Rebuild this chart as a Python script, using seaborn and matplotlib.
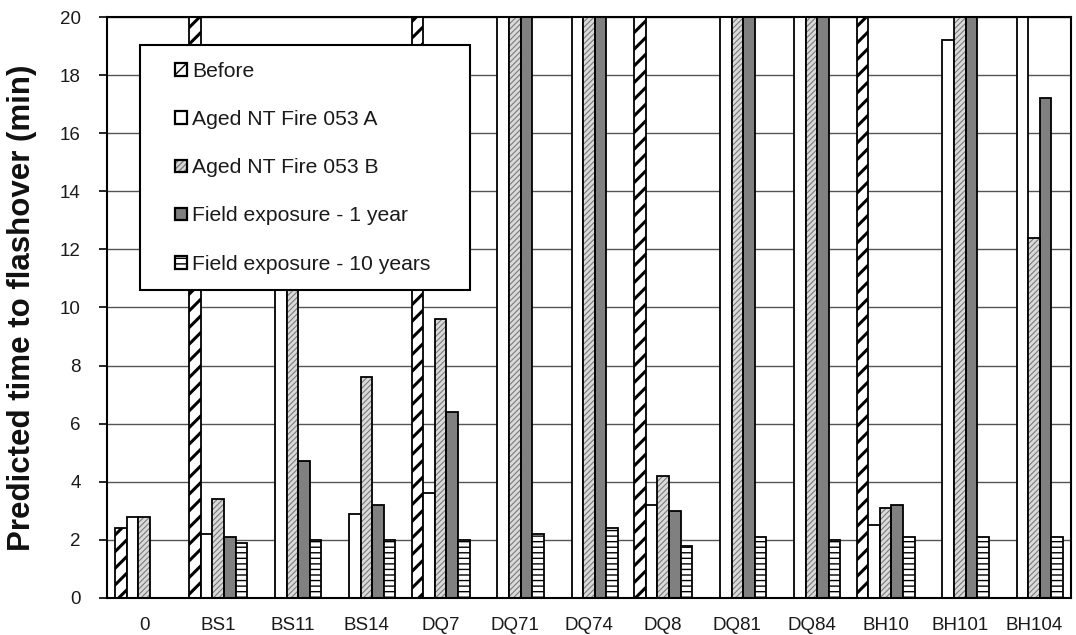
import numpy as np
import pandas as pd
import matplotlib
matplotlib.use("Agg")
import matplotlib.pyplot as plt
import matplotlib.patches as mpatches
from matplotlib.legend_handler import HandlerPatch
import seaborn as sns

nan = np.nan
OFF = 30  # bar runs off the top of the 0-20 scale

samples = ["0", "BS1", "BS11", "BS14", "DQ7", "DQ71", "DQ74", "DQ8",
           "DQ81", "DQ84", "BH10", "BH101", "BH104"]
series = ["Before", "Aged NT Fire 053 A", "Aged NT Fire 053 B",
          "Field exposure - 1 year", "Field exposure - 10 years"]

before   = [2.4, OFF, nan, nan, OFF, nan, nan, OFF, nan, nan, OFF, nan, nan]
aged_a   = [2.8, 2.2, 14.5, 2.9, 3.6, OFF, OFF, 3.2, OFF, OFF, 2.5, 19.2, OFF]
aged_b   = [2.8, 3.4, 12.0, 7.6, 9.6, OFF, OFF, 4.2, OFF, OFF, 3.1, OFF, 12.4]
field_1  = [nan, 2.1, 4.7, 3.2, 6.4, OFF, OFF, 3.0, OFF, OFF, 3.2, OFF, 17.2]
field_10 = [nan, 1.9, 2.0, 2.0, 2.0, 2.2, 2.4, 1.8, 2.1, 2.0, 2.1, 2.1, 2.1]

values = [before, aged_a, aged_b, field_1, field_10]

# fill, hatch, hatch colour, hatch line width
styles = {
    "Before": ("white", "//", "black", 2.2),
    "Aged NT Fire 053 A": ("white", "", "black", 1.0),
    "Aged NT Fire 053 B": ("#dadada", "//////", "#7a7a7a", 0.8),
    "Field exposure - 1 year": ("#808080", "", "black", 1.0),
    "Field exposure - 10 years": ("white", "---", "black", 1.0),
}

rows = []
for name, vals in zip(series, values):
    for s, v in zip(samples, vals):
        rows.append((s, name, v))
df = pd.DataFrame(rows, columns=["sample", "series", "value"]).dropna()

sns.set_style("white")
plt.rcParams["font.family"] = ["Liberation Sans", "DejaVu Sans"]
plt.rcParams["hatch.linewidth"] = 1.0

fig, ax = plt.subplots(figsize=(10.76, 6.35), dpi=100)
fig.subplots_adjust(left=0.0994, right=0.9954, bottom=0.0583, top=0.9732)

sns.barplot(data=df, x="sample", y="value", hue="series", order=samples,
            hue_order=series, palette=[styles[n][0] for n in series],
            width=0.78, errorbar=None, saturation=1, edgecolor="black",
            linewidth=1.3, legend=False, ax=ax)

EDGE = 1.3
for cont, name in zip(ax.containers, series):
    face, hatch, hcol, hlw = styles[name]
    for bar in cont:
        if hatch:
            bar.set_hatch(hatch)
            bar.set_edgecolor(hcol)
            if hasattr(bar, "set_hatch_linewidth"):
                bar.set_hatch_linewidth(hlw)
            if hcol != "black":
                bar.set_linewidth(0)
                ax.add_patch(mpatches.Rectangle(bar.get_xy(), bar.get_width(), bar.get_height(),
                                                fill=False, edgecolor="black", lw=EDGE,
                                                zorder=bar.get_zorder() + 0.1))


def square(legend, orig_handle, xdescent, ydescent, width, height, fontsize):
    s = 0.6 * fontsize
    return mpatches.Rectangle((-xdescent + width - s, -ydescent + (height - s) / 2), s, s)


handles = []
for name in series:
    face, hatch, hcol, hlw = styles[name]
    p = mpatches.Patch(facecolor=face, edgecolor=hcol, hatch=hatch, linewidth=0)
    if hasattr(p, "set_hatch_linewidth"):
        p.set_hatch_linewidth(hlw * 0.8)
    o = mpatches.Patch(fill=False, edgecolor="black", linewidth=1.6)
    handles.append((p, o))

leg = ax.legend(handles=handles, labels=series,
                handler_map={mpatches.Patch: HandlerPatch(patch_func=square)},
                loc="upper left", bbox_to_anchor=(0.0342, 0.5336, 0.342, 0.418),
                mode="expand", borderaxespad=0, fontsize=15.2, frameon=True,
                fancybox=False, edgecolor="black", framealpha=1, borderpad=0.8,
                labelspacing=1.38, handlelength=1.45, handleheight=0.7,
                handletextpad=0.22)
leg.get_frame().set_linewidth(1.5)
for t in leg.get_texts():
    t.set_color("#1a1a1a")

ax.set_ylim(0, 20)
ax.set_yticks(range(0, 21, 2))
ax.set_xlim(-0.5, len(samples) - 0.5)
ax.set_xticks(np.arange(len(samples) + 1) - 0.5, minor=True)
ax.tick_params(axis="x", which="major", length=0, pad=14, labelsize=13.5, labelcolor="#1a1a1a")
ax.tick_params(axis="x", which="minor", length=6, width=1.2, direction="out", color="black")
ax.tick_params(axis="y", length=6, width=1.2, direction="out", pad=13, labelsize=13.5,
               color="black", labelcolor="#1a1a1a", left=True)
ax.set_axisbelow(True)
ax.yaxis.grid(True, color="#555555", lw=1.0)
ax.xaxis.grid(False)
for sp in ax.spines.values():
    sp.set_visible(True)
    sp.set_color("black")
    sp.set_linewidth(1.5)

ax.set_xlabel("")
ax.set_ylabel("Predicted time to flashover (min)", fontsize=22.5, fontweight="bold",
              labelpad=16, color="#111111")

fig.savefig("out.png", dpi=100)
